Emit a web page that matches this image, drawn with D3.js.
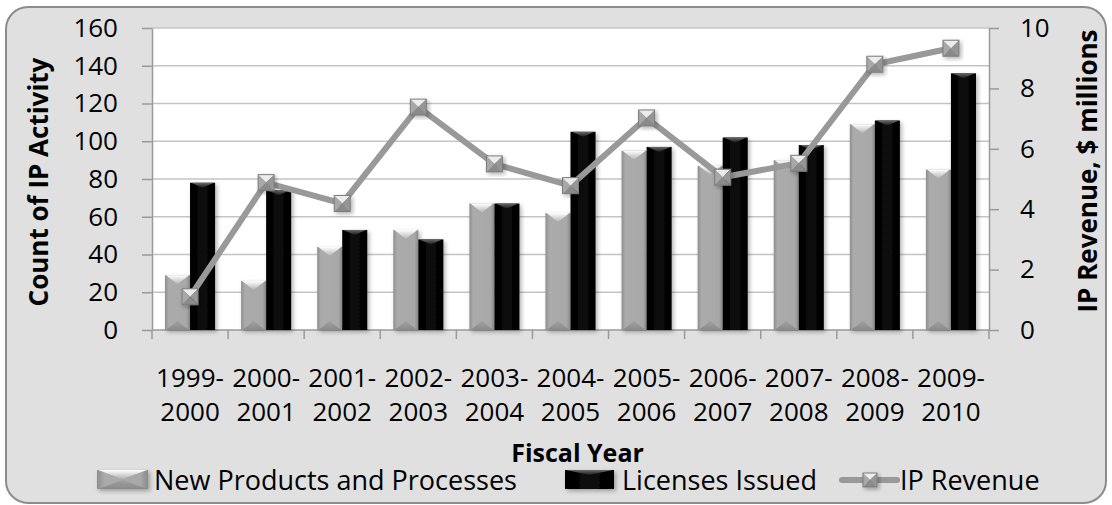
<!DOCTYPE html>
<html>
<head>
<meta charset="utf-8">
<script src="https://cdn.jsdelivr.net/npm/d3@7"></script>
<style>
  body { margin: 0; background: #fff; }
  text { font-family: "Open Sans", sans-serif; fill: #000; }
</style>
</head>
<body>
<div id="c"></div>
<script>
"use strict";

// data
const years = ["1999-2000", "2000-2001", "2001-2002", "2002-2003", "2003-2004", "2004-2005",
    "2005-2006", "2006-2007", "2007-2008", "2008-2009", "2009-2010"]
const newProducts = [29, 26, 44, 53, 67, 62, 95, 87, 90, 109, 85]
const licenses = [78, 74, 53, 48, 67, 105, 97, 102, 98, 111, 136]
const revenue = [1.1, 4.88, 4.19, 7.38, 5.5, 4.78, 7.02, 5.06, 5.52, 8.8, 9.33]
const countTicks = [0, 20, 40, 60, 80, 100, 120, 140, 160]
const revenueTicks = [0, 2, 4, 6, 8, 10]
const seriesNames = ["New Products and Processes", "Licenses Issued", "IP Revenue"]

const W = 1112, H = 505
const plot = {left: 152, right: 989, top: 28, bottom: 330}

let svg = d3.select('#c').append('svg')
    .attr('width', W).attr('height', H)

let defs = svg.append('defs')

function grad(id, stops, vertical) {
    let g = defs.append('linearGradient').attr('id', id)
        .attr('x1', 0).attr('y1', 0)
        .attr('x2', vertical ? 0 : 1).attr('y2', vertical ? 1 : 0)
    stops.forEach(s => g.append('stop').attr('offset', s[0]).attr('stop-color', s[1]))
}
grad('grayBody', [[0, '#8e8e8e'], [0.15, '#ababab'], [0.85, '#a8a8a8'], [1, '#8a8a8a']])
grad('grayTop', [[0, '#ffffff'], [1, '#b4b4b4']], true)
grad('grayBottom', [[0, '#a0a0a0'], [1, '#8a8a8a']], true)
grad('blackBody', [[0, '#000'], [0.5, '#0b0b0b'], [1, '#000']])
grad('blackTop', [[0, '#6a6a6a'], [1, '#1a1a1a']], true)

let shadow = defs.append('filter').attr('id', 'shadow')
    .attr('x', '-20%').attr('y', '-20%').attr('width', '150%').attr('height', '150%')
shadow.append('feDropShadow').attr('dx', 2).attr('dy', 2)
    .attr('stdDeviation', 2).attr('flood-color', '#000').attr('flood-opacity', 0.3)

// chart frame
svg.append('rect')
    .attr('x', 6).attr('y', 7).attr('width', W - 12).attr('height', H - 9)
    .attr('rx', 22)
    .attr('fill', '#e0e0e0').attr('stroke', '#8c8c8c').attr('stroke-width', 2)

svg.append('rect')
    .attr('x', plot.left).attr('y', plot.top)
    .attr('width', plot.right - plot.left).attr('height', plot.bottom - plot.top)
    .attr('fill', '#fff')

// scales
let xScale = d3.scaleBand()
    .domain(years)
    .range([plot.left, plot.right])
    .paddingInner(0.342).paddingOuter(0.171)
let xSub = d3.scaleBand()
    .domain([0, 1])
    .range([0, xScale.bandwidth()])
let yScale = d3.scaleLinear().domain([0, 160]).range([plot.bottom, plot.top])
let y2Scale = d3.scaleLinear().domain([0, 10]).range([plot.bottom, plot.top])

// gridlines
svg.append('g')
    .selectAll('line')
    .data(countTicks.slice(1))
    .enter()
    .append('line')
        .attr('x1', plot.left).attr('x2', plot.right)
        .attr('y1', d => yScale(d)).attr('y2', d => yScale(d))
        .attr('stroke', '#c4c4c4').attr('stroke-width', 1.5)

function styleAxis(g) {
    g.selectAll('path, line').attr('stroke', '#9a9a9a').attr('stroke-width', 1.5)
    g.selectAll('text').style('font-size', '26px').attr('fill', '#000')
        .style('font-family', '"Open Sans", sans-serif')
}

// left axis
svg.append('g')
    .attr('transform', 'translate(' + plot.left + ',0)')
    .call(d3.axisLeft(yScale).tickValues(countTicks)
        .tickSize(10).tickSizeOuter(0).tickPadding(24))
    .call(styleAxis)

// right axis
svg.append('g')
    .attr('transform', 'translate(' + plot.right + ',0)')
    .call(d3.axisRight(y2Scale).tickValues(revenueTicks)
        .tickSize(10).tickSizeOuter(0).tickPadding(21))
    .call(styleAxis)

// bottom axis, ticks between categories
let step = xScale.step()
let xAxis = svg.append('g')
    .attr('transform', 'translate(0,' + plot.bottom + ')')
xAxis.append('line')
    .attr('x1', plot.left).attr('x2', plot.right)
    .attr('stroke', '#9a9a9a').attr('stroke-width', 1.5)
xAxis.selectAll('.sep')
    .data(years)
    .enter()
    .append('line')
        .attr('x1', d => xScale(d) - step * 0.171)
        .attr('x2', d => xScale(d) - step * 0.171)
        .attr('y1', 0).attr('y2', 9)
        .attr('stroke', '#9a9a9a').attr('stroke-width', 1.5)
xAxis.append('line')
    .attr('x1', plot.right).attr('x2', plot.right)
    .attr('y1', 0).attr('y2', 9)
    .attr('stroke', '#9a9a9a').attr('stroke-width', 1.5)
let xLabels = xAxis.selectAll('.lbl')
    .data(years)
    .enter()
    .append('text')
        .attr('text-anchor', 'middle')
        .style('font-size', '26px')
xLabels.append('tspan')
    .attr('x', d => xScale(d) + xScale.bandwidth() / 2)
    .attr('y', 57)
    .text(d => d.split('-')[0] + '-')
xLabels.append('tspan')
    .attr('x', d => xScale(d) + xScale.bandwidth() / 2)
    .attr('y', 91)
    .text(d => d.split('-')[1])

// bars
function drawBar(g, x, y, w, h, dark) {
    let bv = dark ? 5 : 9
    g.append('rect')
        .attr('x', x).attr('y', y).attr('width', w).attr('height', h)
        .attr('fill', dark ? 'url(#blackBody)' : 'url(#grayBody)')
        .attr('filter', 'url(#shadow)')
    if (h > bv * 2) {
        g.append('polygon')
            .attr('points', [[x + 1, y], [x + w - 1, y], [x + w / 2, y + bv]].join(' '))
            .attr('fill', dark ? 'url(#blackTop)' : 'url(#grayTop)')
        if (!dark) {
            g.append('polygon')
                .attr('points', [[x + 1, y + h], [x + w - 1, y + h], [x + w / 2, y + h - bv]].join(' '))
                .attr('fill', 'url(#grayBottom)')
        }
    }
}

let bars = svg.append('g')
years.forEach((yr, i) => {
    let vals = [newProducts[i], licenses[i]]
    vals.forEach((v, j) => {
        drawBar(bars, xScale(yr) + xSub(j), yScale(v), xSub.bandwidth(),
            yScale(0) - yScale(v), j == 1)
    })
})

// revenue line
let cx = d => xScale(d) + xScale.bandwidth() / 2
svg.append('path')
    .datum(years)
    .attr('fill', 'none')
    .attr('stroke', '#999')
    .attr('stroke-width', 6)
    .attr('d', d3.line()
        .x(d => cx(d))
        .y((d, i) => y2Scale(revenue[i])))

function drawMarker(g, x, y, s) {
    let h = s / 2
    let tl = [x - h, y - h], tr = [x + h, y - h], br = [x + h, y + h], bl = [x - h, y + h], c = [x, y]
    let m = g.append('g').attr('filter', 'url(#shadow)')
    m.append('polygon').attr('points', [tl, tr, c].join(' ')).attr('fill', '#ececec')
    m.append('polygon').attr('points', [tl, c, bl].join(' ')).attr('fill', '#a8a8a8')
    m.append('polygon').attr('points', [tr, br, c].join(' ')).attr('fill', '#969696')
    m.append('polygon').attr('points', [bl, br, c].join(' ')).attr('fill', '#8a8a8a')
    m.append('rect').attr('x', x - h).attr('y', y - h).attr('width', s).attr('height', s)
        .attr('fill', 'none').attr('stroke', '#7c7c7c').attr('stroke-width', 1)
}

let markers = svg.append('g')
years.forEach((yr, i) => drawMarker(markers, cx(yr), y2Scale(revenue[i]), 16))

// axis titles
svg.append('text')
    .attr('transform', 'translate(48,' + ((plot.top + plot.bottom) / 2 + 3) + ') rotate(-90)')
    .attr('text-anchor', 'middle')
    .style('font-size', '26px').style('font-weight', 'bold')
    .text('Count of IP Activity')
svg.append('text')
    .attr('transform', 'translate(1097,' + ((plot.top + plot.bottom) / 2 - 8) + ') rotate(-90)')
    .attr('text-anchor', 'middle')
    .style('font-size', '26px').style('font-weight', 'bold')
    .text('IP Revenue, $ millions')
svg.append('text')
    .attr('x', (plot.left + plot.right) / 2 + 7).attr('y', 462)
    .attr('text-anchor', 'middle')
    .style('font-size', '25px').style('font-weight', 'bold')
    .text('Fiscal Year')

// legend
let legend = svg.append('g')
let legendX = [97, 565, 842]
drawBar(legend, legendX[0], 470, 51, 19, false)
drawBar(legend, legendX[1], 470, 49, 19, true)
legend.append('line')
    .attr('x1', legendX[2]).attr('x2', legendX[2] + 55)
    .attr('y1', 480).attr('y2', 480)
    .attr('stroke', '#999').attr('stroke-width', 6).attr('stroke-linecap', 'round')
drawMarker(legend, legendX[2] + 28, 480, 14)
legend.selectAll('.lt')
    .data(seriesNames)
    .enter()
    .append('text')
        .attr('x', (d, i) => legendX[i] + (i == 2 ? 58 : 57))
        .attr('y', 490)
        .style('font-size', '27px')
        .text(d => d)
</script>
</body>
</html>
